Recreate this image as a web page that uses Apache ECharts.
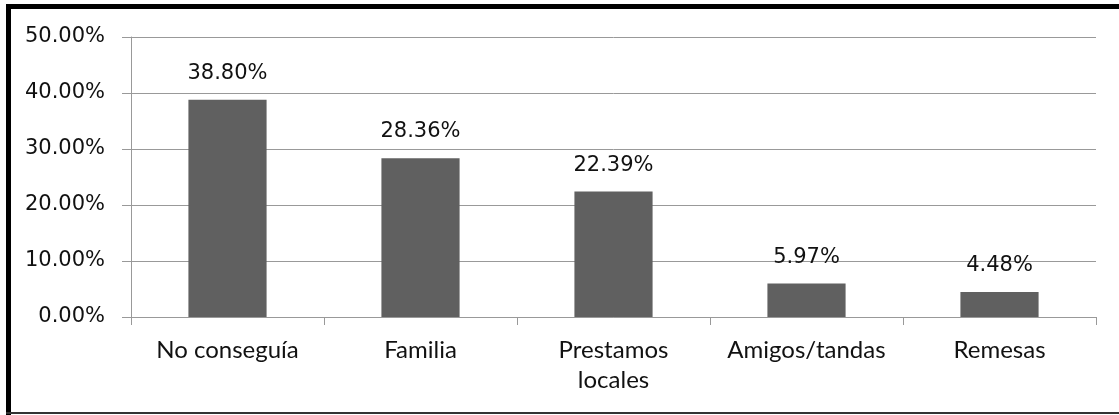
<!DOCTYPE html>
<html><head><meta charset="utf-8">
<script src="https://cdn.jsdelivr.net/npm/echarts@6/dist/echarts.min.js"></script>
<style>html,body{margin:0;padding:0;background:#fff}#c{width:1119px;height:415px}</style>
</head><body><div id="c"></div>
<script>
var categories = ['No conseguía', 'Familia', 'Prestamos\nlocales', 'Amigos/tandas', 'Remesas'];
var values = [38.80, 28.36, 22.39, 5.97, 4.48];
var yTicks = [0, 10, 20, 30, 40, 50];

var chart = echarts.init(document.getElementById('c'), null, {renderer: 'canvas'});
chart.setOption({
  animation: false,
  backgroundColor: '#fff',
  grid: {left: 131, right: 23, top: 37, bottom: 98, containLabel: false},
  xAxis: {
    type: 'category',
    data: categories,
    axisLine: {lineStyle: {color: '#999', width: 1}},
    axisTick: {show: true, length: 8, alignWithLabel: false, lineStyle: {color: '#999'}},
    axisLabel: {interval: 0, hideOverlap: false, fontFamily: 'Lato', fontSize: 24, color: '#111', margin: 18, lineHeight: 30}
  },
  yAxis: {
    type: 'value',
    min: yTicks[0], max: yTicks[yTicks.length - 1], interval: 10,
    axisLine: {show: true, lineStyle: {color: '#999', width: 1}},
    axisTick: {show: true, length: 9, lineStyle: {color: '#999'}},
    splitLine: {lineStyle: {color: '#999', width: 1}},
    axisLabel: {fontFamily: 'DejaVu Sans', fontSize: 21, color: '#111', margin: 26,
      formatter: function (v) { return v.toFixed(2) + '%'; }}
  },
  series: [{
    type: 'bar',
    data: values,
    barWidth: '40.5%',
    itemStyle: {color: '#606060'},
    label: {show: true, position: 'top', distance: 16, fontFamily: 'DejaVu Sans', fontSize: 21, color: '#111',
      formatter: function (p) { return p.value.toFixed(2) + '%'; }}
  }],
  graphic: [
    {type: 'rect', shape: {x: 6, y: 4, width: 1113, height: 5}, style: {fill: '#000'}},
    {type: 'rect', shape: {x: 6, y: 4, width: 5, height: 411}, style: {fill: '#000'}},
    {type: 'rect', shape: {x: 6, y: 412, width: 1113, height: 2}, style: {fill: '#333'}}
  ]
});
</script></body></html>
